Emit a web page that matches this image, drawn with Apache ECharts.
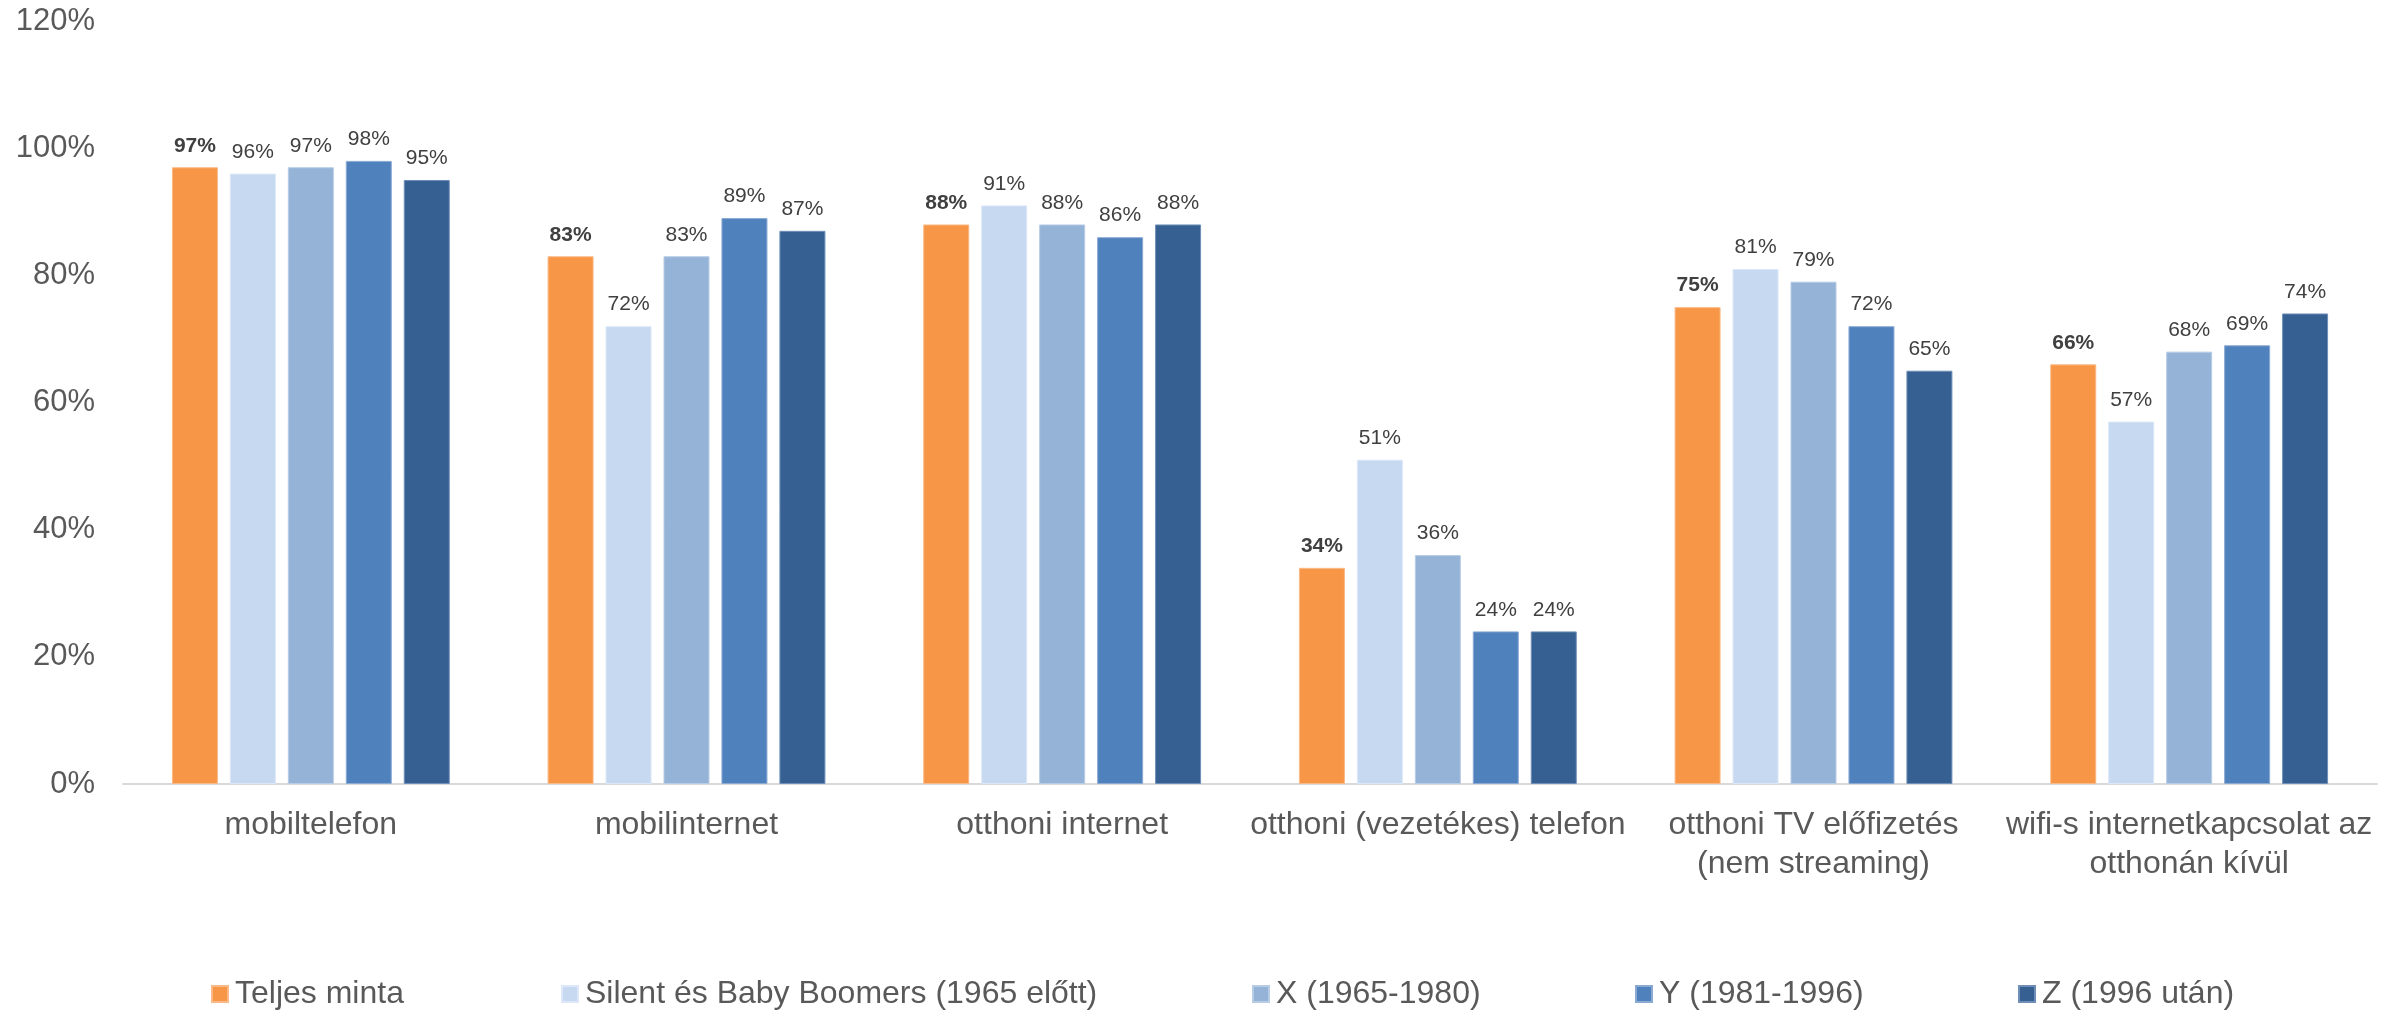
<!DOCTYPE html>
<html>
<head>
<meta charset="utf-8">
<title>Eszközhasználat generációk szerint</title>
<script src="https://cdn.jsdelivr.net/npm/echarts@6/dist/echarts.min.js"></script>
<style>
  html, body { margin: 0; padding: 0; background: #ffffff; }
  #chart { width: 2394px; height: 1010px; }
</style>
</head>
<body>
<div id="chart"></div>
<script>
// Categories (line breaks mark the wrapped axis labels)
const categories = [
  'mobiltelefon',
  'mobilinternet',
  'otthoni internet',
  'otthoni (vezetékes) telefon',
  'otthoni TV előfizetés\n(nem streaming)',
  'wifi-s internetkapcsolat az\notthonán kívül'
];

// Series names
const seriesNames = [
  'Teljes minta',
  'Silent és Baby Boomers (1965 előtt)',
  'X (1965-1980)',
  'Y (1981-1996)',
  'Z (1996 után)'
];

// Shares in percent, one array per series
const teljesMinta = [97, 83, 88, 34, 75, 66];
const silentBoomers = [96, 72, 91, 51, 81, 57];
const genX = [97, 83, 88, 36, 79, 68];
const genY = [98, 89, 86, 24, 72, 69];
const genZ = [95, 87, 88, 24, 65, 74];

// Value axis ticks
const yTicks = [0, 20, 40, 60, 80, 100, 120];

const seriesValues = [teljesMinta, silentBoomers, genX, genY, genZ];
const colors = ['#F79646', '#C6D9F1', '#95B3D7', '#4F81BD', '#376092'];
const borders = ['#FAB987', '#DCE8F7', '#B7CCE5', '#8BAAD3', '#6F8FB8'];
const legendLeft = [211, 561, 1252, 1635, 2018];

const FONT = '"Liberation Sans", Arial, Helvetica, sans-serif';

const chart = echarts.init(document.getElementById('chart'), null, { renderer: 'canvas' });

const option = {
  animation: false,
  backgroundColor: '#ffffff',
  textStyle: { fontFamily: FONT },
  grid: { left: 123, right: 17, top: 21, bottom: 226 },
  legend: seriesNames.map((name, i) => ({
    data: [name],
    left: legendLeft[i],
    top: 978,
    padding: 0,
    icon: 'rect',
    itemWidth: 16,
    itemHeight: 16,
    selectedMode: false,
    textStyle: { fontFamily: FONT, fontSize: 32, color: '#595959', lineHeight: 32, padding: [0, 0, 0, 2] }
  })),
  xAxis: {
    type: 'category',
    data: categories,
    axisLine: { show: true, lineStyle: { color: '#D9D9D9', width: 2 } },
    axisTick: { show: false },
    splitLine: { show: false },
    axisLabel: {
      interval: 0,
      margin: 22,
      fontFamily: FONT,
      fontSize: 32,
      lineHeight: 39,
      color: '#595959',
      align: 'center'
    }
  },
  yAxis: {
    type: 'value',
    min: yTicks[0],
    max: yTicks[yTicks.length - 1],
    interval: yTicks[1] - yTicks[0],
    axisLine: { show: false },
    axisTick: { show: false },
    splitLine: { show: false },
    axisLabel: {
      margin: 28,
      fontFamily: FONT,
      fontSize: 31,
      color: '#595959',
      formatter: v => v + '%'
    }
  },
  series: seriesNames.map((name, i) => ({
    name: name,
    type: 'bar',
    data: seriesValues[i],
    barWidth: 46,
    barGap: '26%',
    itemStyle: { color: colors[i], borderColor: borders[i], borderWidth: 1 },
    label: {
      show: true,
      position: 'top',
      distance: 11,
      fontFamily: FONT,
      fontSize: 21,
      fontWeight: i === 0 ? 'bold' : 'normal',
      color: '#404040',
      formatter: p => p.value + '%'
    }
  }))
};

chart.setOption(option);
</script>
</body>
</html>
